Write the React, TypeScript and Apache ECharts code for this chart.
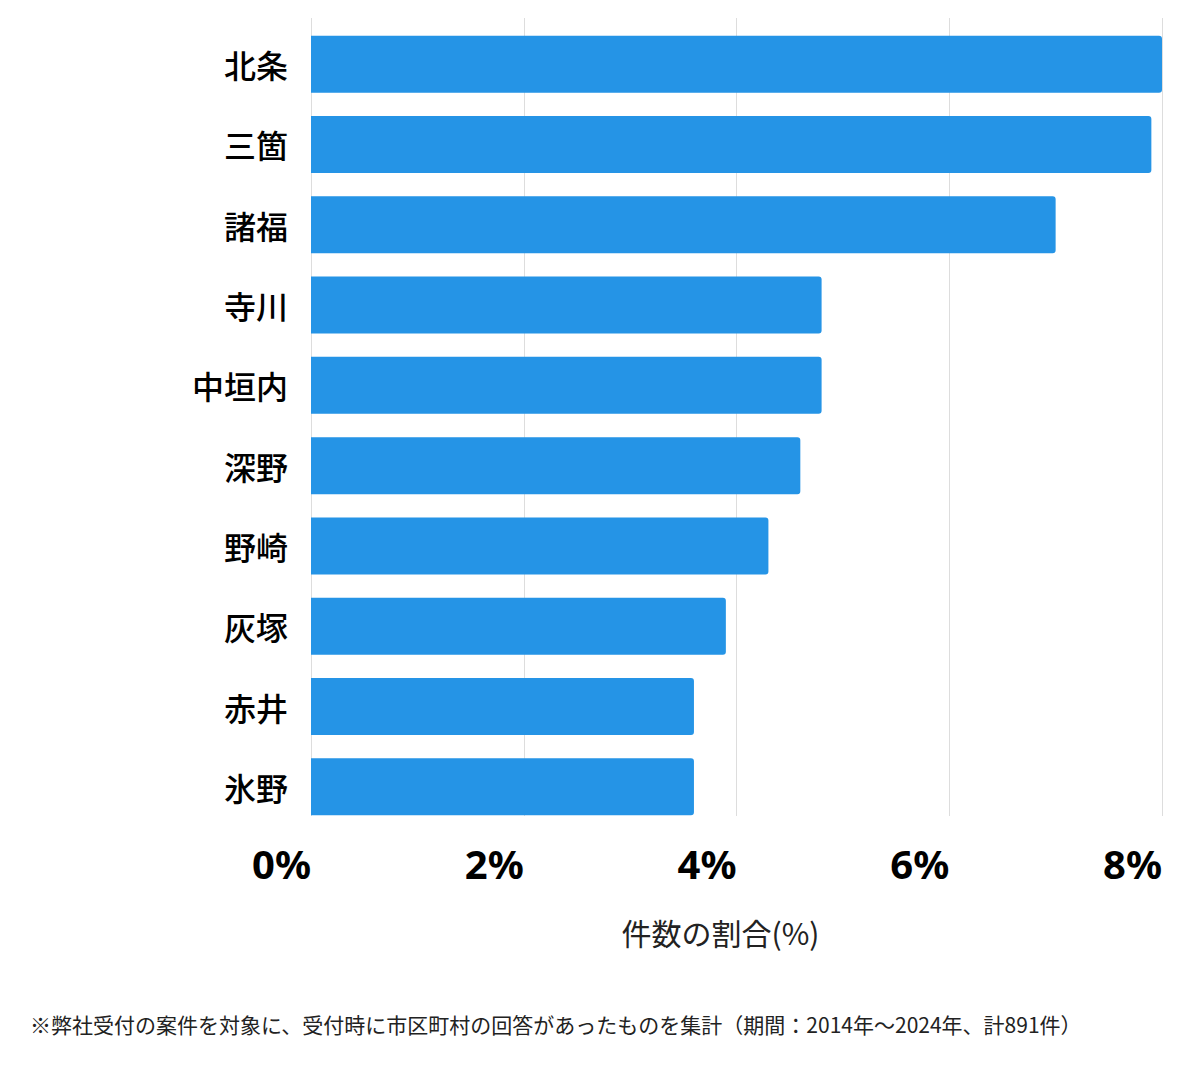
import React, { useEffect, useRef } from "react";
import * as echarts from "echarts";

const categories = ["北条", "三箇", "諸福", "寺川", "中垣内", "深野", "野崎", "灰塚", "赤井", "氷野"];
const shares = [8.0, 7.9, 7.0, 4.8, 4.8, 4.6, 4.3, 3.9, 3.6, 3.6];
const xTicks = [0, 2, 4, 6, 8];
const axisTitle = "件数の割合(%)";
const footnote = "※弊社受付の案件を対象に、受付時に市区町村の回答があったものを集計（期間：2014年～2024年、計891件）";

export default function App() {
  const ref = useRef<HTMLDivElement>(null);
  useEffect(() => {
    if (!ref.current) return;
    const chart = echarts.init(ref.current, null, { renderer: "svg" });
    const xMin = xTicks[0];
    const xMax = xTicks[xTicks.length - 1];
    chart.setOption({
      animation: false,
      backgroundColor: "#ffffff",
      textStyle: { fontFamily: "'Noto Sans CJK JP', 'Noto Sans', sans-serif" },
      grid: [
        { left: 311, right: 38, top: 18, bottom: 253, containLabel: false },
        { left: 311, right: 38, top: 24, bottom: 242, containLabel: false },
      ],
      xAxis: [
        {
          gridIndex: 0,
          type: "value",
          min: xMin,
          max: xMax,
          interval: 2,
          axisLine: { show: false },
          axisTick: { show: false },
          axisLabel: { show: false },
          splitLine: { show: true, lineStyle: { color: "#dddddd", width: 1 } },
        },
        {
          gridIndex: 1,
          type: "value",
          min: xMin,
          max: xMax,
          interval: 2,
          axisLine: { show: false },
          axisTick: { show: false },
          splitLine: { show: false },
          axisLabel: {
            formatter: (v: number) => `${v}%`,
            align: "right",
            margin: 16,
            fontSize: 40,
            fontWeight: "bold",
            color: "#000000",
            fontFamily: "'Noto Sans', sans-serif",
          },
          name: axisTitle,
          nameLocation: "middle",
          nameGap: 90,
          nameTextStyle: {
            fontSize: 30,
            color: "#222222",
            fontFamily: "'Noto Sans CJK JP', sans-serif",
            padding: [0, 32, 0, 0],
          },
        },
      ],
      yAxis: [
        {
          gridIndex: 0,
          type: "category",
          data: categories,
          inverse: true,
          show: false,
        },
        {
          gridIndex: 1,
          type: "category",
          data: categories,
          inverse: true,
          axisLine: { show: false },
          axisTick: { show: false },
          splitLine: { show: false },
          axisLabel: {
            margin: 23,
            fontSize: 32,
            color: "#000000",
            fontWeight: 500,
            fontFamily: "'Noto Sans CJK JP', sans-serif",
          },
        },
      ],
      series: [
        {
          type: "bar",
          xAxisIndex: 1,
          yAxisIndex: 1,
          data: shares,
          barWidth: 57,
          itemStyle: { color: "#2594E6", borderRadius: [0, 3, 3, 0] },
          silent: true,
        },
      ],
      graphic: [
        {
          type: "text",
          left: 30,
          top: 1013,
          style: {
            text: footnote,
            fontSize: 21,
            fill: "#222222",
            fontFamily: "'Noto Sans CJK JP', sans-serif",
          },
        },
      ],
    });
    return () => chart.dispose();
  }, []);
  return (
    <div
      ref={ref}
      style={{ position: "absolute", left: 0, top: 0, width: 1200, height: 1069 }}
    />
  );
}
